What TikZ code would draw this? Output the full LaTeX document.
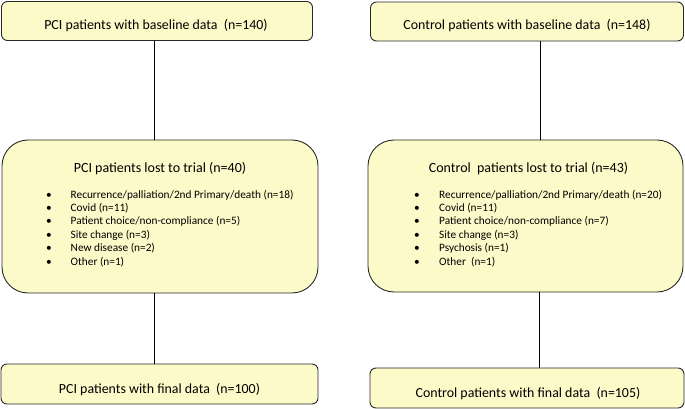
\documentclass[tikz,border=0pt]{standalone}
\usepackage{fontspec}
\setmainfont{Carlito}
\definecolor{boxfill}{RGB}{252,250,200}
\definecolor{boxline}{RGB}{40,40,40}
\begin{document}
\begin{tikzpicture}[x=1pt,y=-1pt,
  box/.style={draw=boxline,fill=boxfill,line width=0.9pt,rounded corners=6pt,inner sep=0pt},
  bigbox/.style={box,rounded corners=26pt},
  headtxt/.style={font=\fontsize{13.9}{16}\selectfont,inner sep=0pt,anchor=base},
  titletxt/.style={font=\fontsize{14}{17}\selectfont,inner sep=0pt,anchor=base},
  itemtxt/.style={font=\fontsize{11.3}{13}\selectfont,inner sep=0pt,anchor=base west},
  link/.style={draw=black,line width=0.8pt}]
\useasboundingbox (0,0) rectangle (685,409);
% boxes
\node[box,minimum width=311pt,minimum height=39pt] (tl) at (157,21) {};
\node[box,minimum width=313pt,minimum height=39pt] (tr) at (527,21.5) {};
\node[bigbox,minimum width=316pt,minimum height=153pt] (ml) at (160,216.5) {};
\node[bigbox,minimum width=315pt,minimum height=152pt] (mr) at (525.5,216) {};
\node[box,minimum width=317pt,minimum height=40pt] (bl) at (159.5,384) {};
\node[box,minimum width=314pt,minimum height=40pt] (br) at (527,388) {};
% connectors
\draw[link] ([xshift=-3pt]tl.south) -- ([xshift=-3pt]tl.south |- ml.north);
\draw[link] ([xshift=-6pt]ml.south) -- ([xshift=-6pt]ml.south |- bl.north);
\draw[link] ([xshift=13pt]tr.south) -- ([xshift=13pt]tr.south |- mr.north);
\draw[link] ([xshift=14pt]mr.south) -- ([xshift=14pt]mr.south |- br.north);
% texts
\node[headtxt] (tlt) at (156,30) {PCI patients with baseline data\ \ (n=140)};
\node[headtxt] (trt) at (527,30) {Control patients with baseline data\ \ (n=148)};
\node[headtxt] (blt) at (159.5,393) {PCI patients with final data\ \ (n=100)};
\node[headtxt] (brt) at (528,397) {Control patients with final data\ \ (n=105)};
\node[titletxt] (mlt) at (160,172.5) {PCI patients lost to trial (n=40)};
\node[titletxt] (mrt) at (528.5,172.5) {Control\ \ patients lost to trial (n=43)};
% left list
\foreach \t [count=\i from 0] in {Recurrence/palliation/2nd Primary/death (n=18),Covid (n=11),Patient choice/non-compliance (n=5),Site change (n=3),New disease (n=2),Other (n=1)}{
  \node[itemtxt] (lb\i) at (46,198+13.4*\i) {\textbullet};
  \node[itemtxt] (li\i) at (70.5,198+13.4*\i) {\t};
}
% right list
\foreach \t [count=\i from 0] in {Recurrence/palliation/2nd Primary/death (n=20),Covid (n=11),Patient choice/non-compliance (n=7),Site change (n=3),Psychosis (n=1),Other\ \ (n=1)}{
  \node[itemtxt] (rb\i) at (414,198+13.4*\i) {\textbullet};
  \node[itemtxt] (ri\i) at (439,198+13.4*\i) {\t};
}
\end{tikzpicture}
\end{document}
